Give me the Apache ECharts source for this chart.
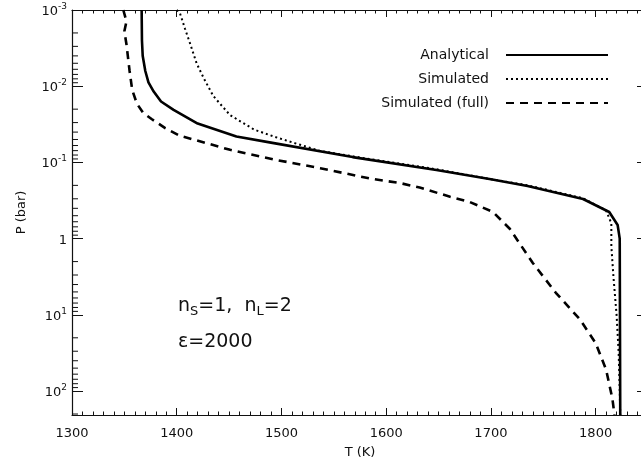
<!DOCTYPE html>
<html><head><meta charset="utf-8">
<script src="https://cdn.jsdelivr.net/npm/echarts@6/dist/echarts.min.js"></script>
<style>html,body{margin:0;padding:0;background:#fff}#c{width:641px;height:462px}</style>
</head><body><div id="c"></div>
<script>
var seriesNames = ['Analytical', 'Simulated', 'Simulated (full)'];
var analyticalT = [1366.5,1366.8,1367.5,1370,1373,1378,1385,1397,1420,1457,1490,1568,1648,1700,1735,1788,1813,1821,1823,1823.5];
var analyticalP = [0.001,0.00251,0.00398,0.00631,0.00891,0.01175,0.01585,0.0204,0.0309,0.0457,0.0550,0.0851,0.126,0.166,0.204,0.302,0.447,0.661,1,206];
var simulatedT = [1400,1403,1408,1413,1419,1426,1435,1451,1474,1497,1537,1568,1648,1700,1735,1788,1810,1815,1815,1817,1820,1822,1823,1823.5];
var simulatedP = [0.001,0.001096,0.001778,0.002818,0.005012,0.007943,0.01349,0.02399,0.03715,0.04786,0.07079,0.08318,0.1230,0.1660,0.1995,0.2951,0.4266,0.6310,1.259,3.162,10,31.62,100,206];
var fullT = [1349,1352,1350,1352,1355,1357.5,1362,1368,1376,1389,1403,1419,1451,1492,1537,1584,1613,1632,1661,1680,1702,1718,1740,1762,1785,1800,1810,1816,1818];
var fullP = [0.001,0.001413,0.001905,0.002818,0.006310,0.01122,0.01698,0.02239,0.02692,0.03548,0.04467,0.05129,0.06839,0.09120,0.1189,0.1622,0.1862,0.2138,0.2818,0.3311,0.4467,0.7413,2.089,5.129,11.48,23.44,52.48,125.9,206];
var xMin = 1300, xMax = 1850;
var yMin = 0.001, yMax = 206;
var yMinorTicks = [0.002,0.003,0.004,0.005,0.006,0.007,0.008,0.009,0.02,0.03,0.04,0.05,0.06,0.07,0.08,0.09,0.2,0.3,0.4,0.5,0.6,0.7,0.8,0.9,2,3,4,5,6,7,8,9,20,30,40,50,60,70,80,90,200];

function pairs(t, p){ return t.map(function(v,i){ return [v, p[i]]; }); }
var FONT = 'DejaVu Sans';
var C = '#111';
var chart = echarts.init(document.getElementById('c'), null, {renderer:'canvas'});

function xAx(pos, showLab){
  return {
    type:'value', position:pos, min:xMin, max:xMax, interval:100,
    axisLine:{show:true, onZero:false, lineStyle:{color:C, width:1.2}},
    axisTick:{show:true, inside:true, length:7, lineStyle:{color:C, width:1}},
    minorTick:{show:true, splitNumber:10, length:3.5, lineStyle:{color:C, width:1}},
    axisLabel:{show:showLab, showMaxLabel:false, color:C, fontFamily:FONT, fontSize:13, margin:12,
      formatter:function(v){ return String(v); }},
    splitLine:{show:false},
    name: showLab ? 'T (K)' : '', nameLocation:'middle', nameGap:31,
    nameTextStyle:{color:C, fontFamily:FONT, fontSize:13}
  };
}
function yAx(pos, showLab){
  return {
    type:'log', logBase:10, position:pos, min:yMin, max:yMax, inverse:true,
    axisLine:{show:true, onZero:false, lineStyle:{color:C, width:1.2}},
    axisTick:{show:true, inside:true, length:11, lineStyle:{color:C, width:1}},
    minorTick:{show:false},
    axisLabel:{show:showLab, showMaxLabel:false, margin:5, color:C, fontFamily:FONT, fontSize:13,
      formatter:function(v){ var e=Math.round(Math.log10(v)); if(e===0) return '{b|1}'; return '{b|10}{s|'+e+'}'; },
      rich:{ b:{fontSize:13, fontFamily:FONT, color:C, lineHeight:16, verticalAlign:'bottom'}, s:{fontSize:9, fontFamily:FONT, color:C, lineHeight:16, verticalAlign:'top'} }
    },
    splitLine:{show:false},
    name: showLab ? 'P (bar)' : '', nameLocation:'middle', nameGap:44, nameRotate:90,
    nameTextStyle:{color:C, fontFamily:FONT, fontSize:13}
  };
}

chart.setOption({
  animation:false,
  backgroundColor:'#fff',
  grid:{left:72, width:576, top:10, height:405, containLabel:false, outerBoundsMode:'none'},
  xAxis:[xAx('bottom', true), xAx('top', false)],
  yAxis:[yAx('left', true), yAx('right', false)],
  legend:{
    orient:'vertical', right:27, top:43, align:'right', itemWidth:102, itemHeight:14, itemGap:10,
    itemStyle:{opacity:0},
    textStyle:{color:C, fontFamily:FONT, fontSize:14, padding:[0,12,0,0]},
    data:seriesNames
  },
  graphic:[
    {type:'text', left:178, top:297, style:{text:'n{sub|S}=1,  n{sub|L}=2', fill:C, font:'19px "DejaVu Sans"',
      rich:{sub:{fontSize:13, fontFamily:FONT, fill:C, padding:[10,0,0,0]}}}},
    {type:'text', left:178, top:333, style:{text:'\u03b5=2000', fill:C, font:'19px "DejaVu Sans"'}}
  ],
  series:[
    {name:seriesNames[0], type:'line', xAxisIndex:0, yAxisIndex:0, symbol:'none', showSymbol:false,
      itemStyle:{color:'#000'}, lineStyle:{color:'#000', width:2.6, type:'solid'}, data:pairs(analyticalT, analyticalP)},
    {name:seriesNames[1], type:'line', xAxisIndex:0, yAxisIndex:0, symbol:'none', showSymbol:false,
      itemStyle:{color:'#000'}, lineStyle:{color:'#000', width:2, type:[2,3]}, data:pairs(simulatedT, simulatedP)},
    {name:seriesNames[2], type:'line', xAxisIndex:0, yAxisIndex:0, symbol:'none', showSymbol:false,
      itemStyle:{color:'#000'}, lineStyle:{color:'#000', width:2.6, type:[8,6]}, data:pairs(fullT, fullP)},
    {name:'minorTicks', type:'custom', xAxisIndex:0, yAxisIndex:0, silent:true, clip:false, z:5,
      data: yMinorTicks.map(function(v){ return [xMin, v]; }),
      renderItem:function(params, api){
        var v = api.value(1);
        var pl = api.coord([xMin, v]);
        var pr = api.coord([xMax, v]);
        return {type:'group', children:[
          {type:'line', shape:{x1:pl[0], y1:pl[1], x2:pl[0]+6, y2:pl[1]}, style:{stroke:C, lineWidth:1}},
          {type:'line', shape:{x1:pr[0], y1:pr[1], x2:pr[0]-6, y2:pr[1]}, style:{stroke:C, lineWidth:1}}
        ]};
      }
    }
  ]
});
</script></body></html>
